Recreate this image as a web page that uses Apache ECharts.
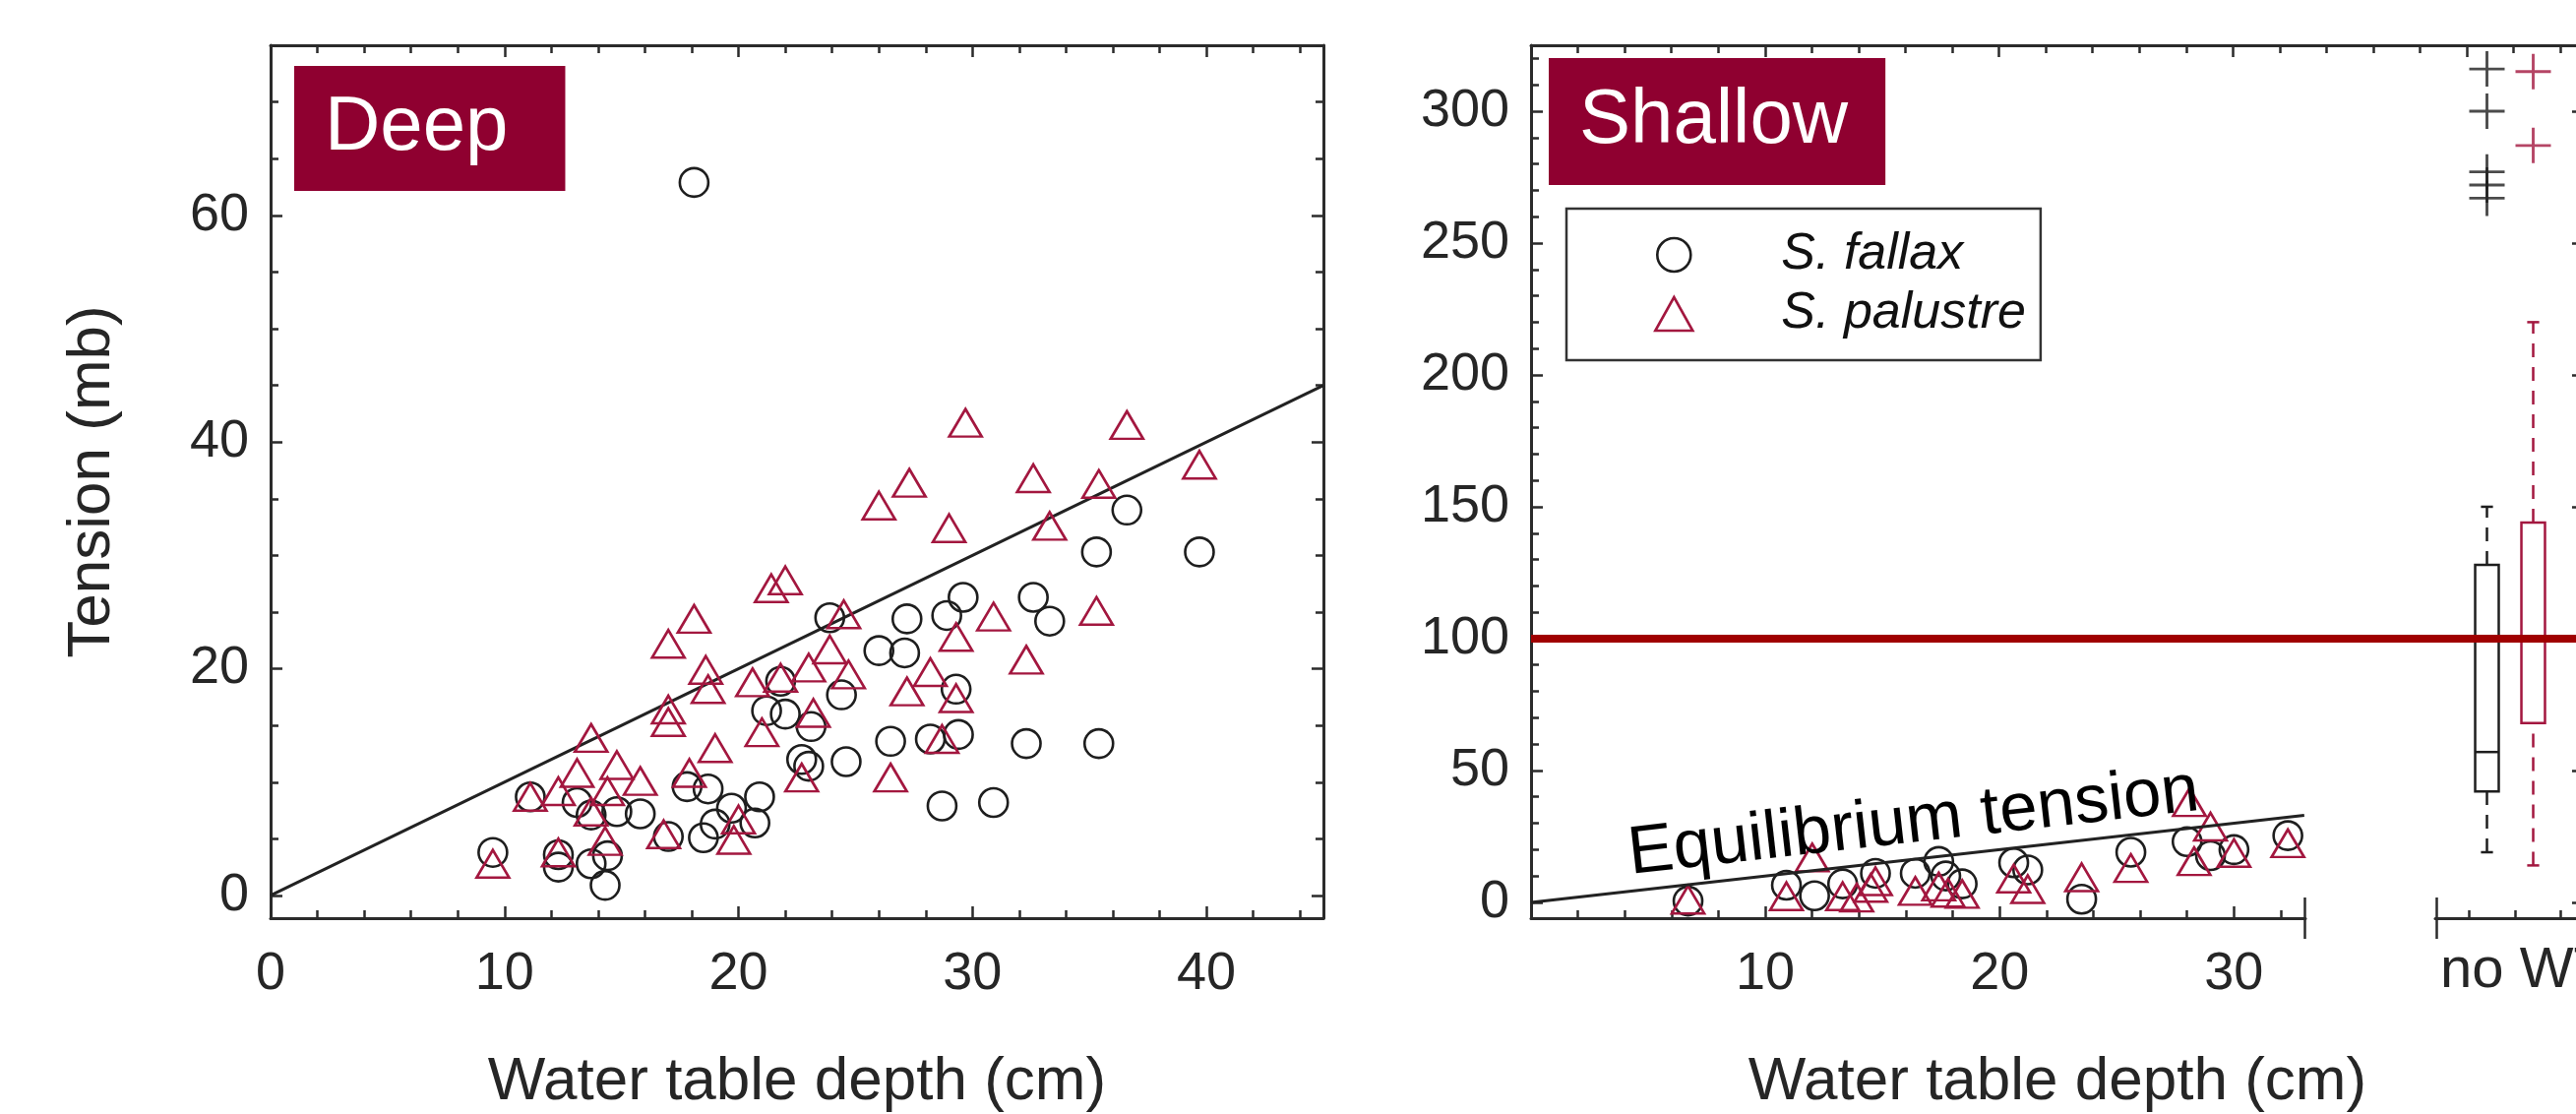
<!DOCTYPE html>
<html>
<head>
<meta charset="utf-8">
<title>Tension vs water table depth</title>
<script src="https://cdn.jsdelivr.net/npm/echarts@6/dist/echarts.min.js"></script>
<style>
html, body { margin: 0; padding: 0; background: #fff; }
#chart { width: 2618px; height: 1132px; }
</style>
</head>
<body>
<div id="chart"></div>
<script>
var FONT = '"Liberation Sans", Arial, Helvetica, sans-serif';
var AXIS = '#2b2b2b', TEXT = '#262626', BLACK = '#1e1e1e', CRIMSON = '#a3173f';
var LABEL_BG = '#8f0030', THRESH = '#a00000';

// Deep panel - S. fallax
var deepFallaxX = [9.5, 11.1, 12.3, 12.3, 13.1, 13.7, 13.7, 14.3, 14.4, 14.8, 15.8, 17.0, 17.8, 18.1, 18.5, 18.7,
  19.0, 19.7, 20.7, 20.9, 21.2, 21.8, 22.0, 22.7, 23.0, 23.1, 23.9, 24.4, 24.6, 26.0, 26.5, 27.1, 27.2, 28.2,
  28.7, 28.9, 29.3, 29.4, 29.6, 30.9, 32.3, 32.6, 33.3, 35.3, 35.4, 36.6, 39.7];
var deepFallaxY = [3.8, 8.7, 3.6, 2.5, 8.2, 2.8, 7.1, 0.9, 3.5, 7.4, 7.2, 5.2, 9.6, 62.9, 5.1, 9.4,
  6.3, 7.7, 6.4, 8.7, 16.3, 18.9, 16.0, 12.0, 11.4, 14.9, 24.5, 17.7, 11.8, 21.6, 13.6, 21.4, 24.4, 13.8,
  7.9, 24.7, 18.2, 14.2, 26.3, 8.2, 13.4, 26.3, 24.2, 30.3, 13.4, 34.0, 30.3];
// Deep panel - S. palustre
var deepPalustreX = [9.5, 11.1, 12.3, 12.3, 13.1, 13.7, 13.7, 14.3, 14.4, 14.8, 15.8, 16.8, 17.0, 17.0, 17.0, 17.9,
  18.1, 18.6, 18.7, 19.0, 19.8, 20.0, 20.6, 21.0, 21.4, 21.8, 22.0, 22.7, 23.0, 23.2, 23.9, 24.5, 24.7, 26.0,
  26.5, 27.2, 27.3, 28.2, 28.7, 29.0, 29.3, 29.3, 29.7, 30.9, 32.3, 32.6, 33.3, 35.3, 35.4, 36.6, 39.7];
var deepPalustreY = [2.8, 8.7, 9.2, 3.8, 10.8, 13.9, 7.4, 4.8, 9.2, 11.5, 10.1, 5.4, 15.3, 16.4, 22.2, 10.8,
  24.4, 19.9, 18.2, 13.0, 4.9, 6.7, 18.8, 14.4, 27.1, 19.2, 27.8, 10.4, 20.1, 16.1, 21.7, 24.8, 19.5, 34.4,
  10.4, 18.0, 36.4, 19.7, 13.8, 32.4, 22.8, 17.4, 41.7, 24.6, 20.8, 36.8, 32.6, 25.1, 36.3, 41.5, 38.0];

// Shallow panel
var shallowFallaxX = [6.7, 10.9, 12.1, 13.3, 14.7, 16.4, 17.4, 17.7, 18.4, 20.6, 21.2, 23.5, 25.6, 28.0, 29.0, 30.0, 32.3];
var shallowFallaxY = [0.5, 6.5, 2.5, 7.0, 11.0, 11.0, 15.5, 10.0, 7.0, 15.0, 12.3, 1.2, 19.0, 23.0, 17.7, 20.0, 25.3];
var shallowPalustreX = [6.7, 10.9, 12.0, 13.3, 13.9, 14.5, 14.7, 16.4, 17.4, 17.8, 18.4, 20.6, 21.2, 23.5, 25.6,
  28.1, 28.3, 29.0, 30.0, 32.3];
var shallowPalustreY = [1.0, 2.3, 17.0, 2.3, 1.8, 5.5, 8.0, 4.3, 6.0, 3.6, 3.2, 9.0, 5.0, 9.5, 13.0,
  38.0, 15.6, 28.7, 18.7, 22.4];

// equilibrium tension lines and the 100 mb threshold
var eqDeepX = [0, 45], eqDeepY = [0, 45];
var eqShallowX = [0, 33], eqShallowY = [0, 33];
var threshold = 100;

// no water table: box plots and outliers
var boxNames = ['S. fallax', 'S. palustre'];
var boxLow = [19, 14];
var boxQ1 = [42, 68];
var boxMedian = [57, 100];
var boxQ3 = [128, 144];
var boxHigh = [150, 220];
var outliersFallax = [316, 300, 277, 272, 267];
var outliersPalustre = [315, 287];

// tick labels
var deepXTicks = [0, 10, 20, 30, 40];
var deepYTicks = [0, 20, 40, 60];
var shallowXTicks = [10, 20, 30];
var shallowYTicks = [0, 50, 100, 150, 200, 250, 300];

var boxColors = [BLACK, CRIMSON];
var PLUS = 'path://M9.2,0h1.6v9.2h9.2v1.6h-9.2v9.2h-1.6v-9.2h-9.2v-1.6h9.2z';

function range(a, b, step) {
  var r = [];
  for (var v = a; v <= b + 1e-9; v += step) r.push(Math.round(v * 100) / 100);
  return r;
}
function pairs(xs, ys) {
  return xs.map(function (x, i) { return [x, ys[i]]; });
}

function axis(o) {
  var a = {
    type: o.type || 'value', gridIndex: o.grid, position: o.pos,
    axisLine: { show: !!o.line, onZero: false, lineStyle: { color: AXIS, width: 3 } },
    axisTick: o.ticks ? {
      show: true, inside: !o.outside, length: o.len || 12, customValues: o.ticks,
      lineStyle: { color: AXIS, width: 2.5 }
    } : { show: false },
    axisLabel: o.labels ? {
      show: true, customValues: o.labels, margin: o.margin, color: TEXT, fontSize: 54, fontFamily: FONT
    } : { show: false },
    splitLine: { show: false }
  };
  if (a.type === 'value') { a.min = o.min; a.max = o.max; }
  if (o.data) a.data = o.data;
  if (o.name) {
    a.name = o.name; a.nameLocation = 'middle'; a.nameGap = o.nameGap; a.nameMoveOverlap = false;
    a.nameTextStyle = { color: TEXT, fontSize: o.nameSize || 62, fontFamily: FONT, padding: o.namePad || 0 };
  }
  return a;
}

var GT = 46, GH = 887;
var grids = [
  { left: 275, top: GT, width: 1070, height: GH },   // deep
  { left: 1556, top: GT, width: 1070, height: GH },  // shallow frame
  { left: 1556, top: GT, width: 787, height: GH },   // shallow scatter
  { left: 2504, top: GT, width: 94, height: GH },    // box categories
  { left: 2475, top: GT, width: 151, height: GH }    // box bottom axis
].map(function (g) { g.containLabel = false; g.outerBoundsMode = 'none'; return g; });

var xAxes = [
  axis({ grid: 0, pos: 'bottom', min: 0, max: 45, line: true, ticks: deepXTicks, labels: deepXTicks, margin: 30,
    name: 'Water table depth (cm)', nameGap: 136 }),
  axis({ grid: 0, pos: 'bottom', min: 0, max: 45, ticks: range(2, 44, 2), len: 8 }),
  axis({ grid: 0, pos: 'top', min: 0, max: 45, line: true, ticks: [10, 20, 30, 40] }),
  axis({ grid: 0, pos: 'top', min: 0, max: 45, ticks: range(2, 44, 2), len: 8 }),
  axis({ grid: 1, pos: 'top', min: 0, max: 45, line: true, ticks: [10, 20, 30, 40] }),
  axis({ grid: 1, pos: 'top', min: 0, max: 45, ticks: range(2, 44, 2), len: 8 }),
  axis({ grid: 1, pos: 'bottom', min: 0, max: 45, name: 'Water table depth (cm)', nameGap: 136 }),
  axis({ grid: 2, pos: 'bottom', min: 0, max: 33.05, line: true, ticks: shallowXTicks, labels: shallowXTicks, margin: 30 }),
  axis({ grid: 2, pos: 'bottom', min: 0, max: 33.05, ticks: range(2, 32, 2), len: 8 }),
  axis({ grid: 2, pos: 'bottom', min: 0, max: 33.05, ticks: [33], len: 21 }),
  axis({ grid: 2, pos: 'bottom', min: 0, max: 33.05, ticks: [33], len: 21, outside: true }),
  axis({ grid: 3, pos: 'bottom', type: 'category', data: boxNames, name: 'no WT', nameGap: 25, nameSize: 58,
    namePad: [0, 0, 0, 29] }),
  axis({ grid: 4, pos: 'bottom', min: 38.55, max: 45, line: true, ticks: [40, 42, 44], len: 8 }),
  axis({ grid: 4, pos: 'bottom', min: 38.55, max: 45, ticks: [38.6], len: 21 }),
  axis({ grid: 4, pos: 'bottom', min: 38.55, max: 45, ticks: [38.6], len: 21, outside: true })
];

var yAxes = [
  axis({ grid: 0, pos: 'left', min: -2, max: 75, line: true, ticks: deepYTicks, labels: deepYTicks, margin: 22,
    name: 'Tension (mb)', nameGap: 150 }),
  axis({ grid: 0, pos: 'left', min: -2, max: 75, ticks: range(0, 75, 5), len: 8 }),
  axis({ grid: 0, pos: 'right', min: -2, max: 75, line: true, ticks: deepYTicks }),
  axis({ grid: 0, pos: 'right', min: -2, max: 75, ticks: range(0, 75, 5), len: 8 }),
  axis({ grid: 1, pos: 'left', min: -6, max: 325, line: true, ticks: shallowYTicks, labels: shallowYTicks, margin: 22 }),
  axis({ grid: 1, pos: 'left', min: -6, max: 325, ticks: range(0, 320, 10), len: 8 }),
  axis({ grid: 1, pos: 'right', min: -6, max: 325, line: true, ticks: shallowYTicks }),
  axis({ grid: 1, pos: 'right', min: -6, max: 325, ticks: range(0, 320, 10), len: 8 }),
  axis({ grid: 2, pos: 'left', min: -6, max: 325 }),
  axis({ grid: 3, pos: 'left', min: -6, max: 325 }),
  axis({ grid: 4, pos: 'left', min: -6, max: 325 })
];

function scatter(name, data, xi, yi, symbol, size, color) {
  return {
    name: name, type: 'scatter', xAxisIndex: xi, yAxisIndex: yi, data: data, silent: true,
    symbol: symbol, symbolSize: size,
    itemStyle: { color: 'transparent', borderColor: color, borderWidth: 2.6, opacity: 1 }, z: 3
  };
}

function renderBox(params, api) {
  var i = api.value(0);
  var low = api.coord([i, api.value(1)]);
  var q1 = api.coord([i, api.value(2)]);
  var med = api.coord([i, api.value(3)]);
  var q3 = api.coord([i, api.value(4)]);
  var high = api.coord([i, api.value(5)]);
  var band = api.size([1, 0])[0];
  var half = band * 0.255, cap = band * 0.13, x = q1[0];
  var color = boxColors[i];
  var solid = { stroke: color, lineWidth: 2.5, fill: null };
  var dashed = { stroke: color, lineWidth: 2.5, lineDash: [14, 10], fill: null };
  return {
    type: 'group',
    children: [
      { type: 'line', shape: { x1: x, y1: q3[1], x2: x, y2: high[1] }, style: dashed },
      { type: 'line', shape: { x1: x, y1: low[1], x2: x, y2: q1[1] }, style: dashed },
      { type: 'line', shape: { x1: x - cap, y1: high[1], x2: x + cap, y2: high[1] }, style: solid },
      { type: 'line', shape: { x1: x - cap, y1: low[1], x2: x + cap, y2: low[1] }, style: solid },
      { type: 'rect', shape: { x: x - half, y: q3[1], width: 2 * half, height: q1[1] - q3[1] }, style: solid },
      { type: 'line', shape: { x1: x - half, y1: med[1], x2: x + half, y2: med[1] }, style: solid }
    ]
  };
}

var labelStyle = { color: '#fff', fontSize: 78, fontWeight: 'normal', fontFamily: FONT, lineHeight: 78 };

var option = {
  backgroundColor: '#fff',
  animation: false,
  title: [
    { text: 'Deep', left: 299, top: 67, backgroundColor: LABEL_BG, padding: [24, 58, 25, 31], textStyle: labelStyle },
    { text: 'Shallow', left: 1574, top: 59, backgroundColor: LABEL_BG, padding: [25, 38, 26, 31], textStyle: labelStyle }
  ],
  legend: {
    left: 1592, top: 212, orient: 'vertical', selectedMode: false,
    padding: [21, 15, 21, 89], itemGap: 8, itemWidth: 38, itemHeight: 34,
    borderColor: '#333', borderWidth: 2.5,
    itemStyle: { borderWidth: 2.6 },
    data: [{ name: 'S. fallax', icon: 'circle' }, { name: 'S. palustre', icon: 'triangle' }],
    formatter: function (n) { return '{g|}{t|' + n + '}'; },
    textStyle: {
      rich: {
        g: { width: 85, lineHeight: 50 },
        t: { fontSize: 52, fontStyle: 'italic', fontFamily: FONT, color: '#111', lineHeight: 50 }
      }
    }
  },
  grid: grids,
  xAxis: xAxes,
  yAxis: yAxes,
  series: [
    {
      name: 'Equilibrium (deep)', type: 'line', xAxisIndex: 0, yAxisIndex: 0, data: pairs(eqDeepX, eqDeepY),
      showSymbol: false, silent: true, lineStyle: { color: '#222', width: 3 }, z: 2
    },
    scatter('S. fallax', pairs(deepFallaxX, deepFallaxY), 0, 0, 'circle', 29, BLACK),
    scatter('S. palustre', pairs(deepPalustreX, deepPalustreY), 0, 0, 'triangle', [33, 28], CRIMSON),
    {
      name: 'Threshold', type: 'line', xAxisIndex: 4, yAxisIndex: 4, data: [[0, threshold], [45, threshold]],
      showSymbol: false, silent: true, lineStyle: { color: THRESH, width: 8 }, z: 6
    },
    {
      name: 'no WT box', type: 'custom', xAxisIndex: 11, yAxisIndex: 9, silent: true, z: 3,
      renderItem: renderBox,
      encode: { x: 0, y: [1, 2, 3, 4, 5] },
      data: boxNames.map(function (n, i) { return [i, boxLow[i], boxQ1[i], boxMedian[i], boxQ3[i], boxHigh[i]]; })
    },
    {
      name: 'Outliers fallax', type: 'scatter', xAxisIndex: 11, yAxisIndex: 9, silent: true,
      symbol: PLUS, symbolSize: 36, itemStyle: { color: BLACK },
      data: outliersFallax.map(function (v) { return [0, v]; })
    },
    {
      name: 'Outliers palustre', type: 'scatter', xAxisIndex: 11, yAxisIndex: 9, silent: true,
      symbol: PLUS, symbolSize: 36, itemStyle: { color: CRIMSON },
      data: outliersPalustre.map(function (v) { return [1, v]; })
    },
    (function () {
      var s = scatter('S. fallax', pairs(shallowFallaxX, shallowFallaxY), 7, 8, 'circle', 29, BLACK);
      s.markLine = {
        silent: true, symbol: ['none', 'none'], animation: false,
        lineStyle: { color: '#222', width: 3, type: 'solid' },
        label: {
          show: true, position: 'middle', formatter: 'Equilibrium tension', distance: 2,
          color: '#000', fontSize: 69, fontFamily: FONT
        },
        data: [[{ coord: [eqShallowX[0], eqShallowY[0]] }, { coord: [eqShallowX[1], eqShallowY[1]] }]]
      };
      return s;
    })(),
    scatter('S. palustre', pairs(shallowPalustreX, shallowPalustreY), 7, 8, 'triangle', [33, 28], CRIMSON)
  ]
};

var chart = echarts.init(document.getElementById('chart'));
chart.setOption(option);
</script>
</body>
</html>
